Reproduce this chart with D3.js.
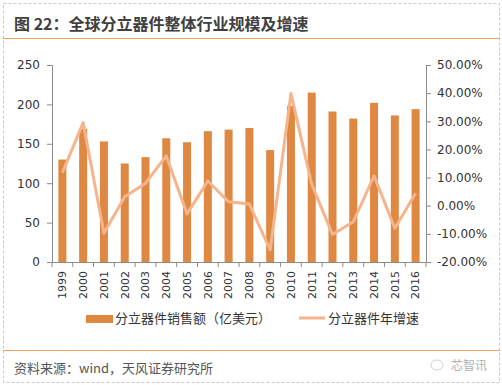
<!DOCTYPE html>
<html>
<head>
<meta charset="utf-8">
<script src="https://cdn.jsdelivr.net/npm/d3@7"></script>
<style>
  body { margin: 0; background: #fff; }
  svg { display: block; font-family: "Noto Sans CJK SC", "DejaVu Sans", sans-serif; }
</style>
</head>
<body>
<div id="chart"></div>
<script>
var years = ["1999","2000","2001","2002","2003","2004","2005","2006","2007","2008",
             "2009","2010","2011","2012","2013","2014","2015","2016"];
var sales = [130, 169, 153, 125, 133, 157, 152, 166, 168, 170,
             142, 198, 215, 191, 182, 202, 186, 194];
var growth = [11.7, 29.5, -9.8, 3.2, 8.0, 17.7, -2.9, 8.8, 1.4, 0.6,
              -15.7, 39.9, 7.6, -10.2, -5.7, 10.6, -8.0, 4.4];
var leftTicks = [0, 50, 100, 150, 200, 250];
var rightTicks = [-20, -10, 0, 10, 20, 30, 40, 50];

var W = 502, H = 385;
var barColor = "#DF8841", lineColor = "#F5B48C", axisColor = "#8c8c8c", orange = "#E8A061";

var svg = d3.select("#chart").append("svg")
    .attr("width", W).attr("height", H);

// dashed frame
svg.append("rect")
    .attr("x", 3.5).attr("y", 3.5).attr("width", W - 6).attr("height", H - 6)
    .attr("fill", "none").attr("stroke", "#c8c8c8").attr("stroke-dasharray", "3,2");

// title
svg.append("text")
    .attr("x", 14).attr("y", 30)
    .attr("font-size", 16).attr("font-weight", "bold").attr("fill", "#404040")
    .text("图 22：全球分立器件整体行业规模及增速");
svg.append("line").attr("x1", 3).attr("x2", W - 2).attr("y1", 38.5).attr("y2", 38.5)
    .attr("stroke", orange).attr("stroke-width", 1.2);

var plotL = 52, plotR = 426, plotT = 65, plotB = 262;

var x = d3.scaleBand().domain(years).range([plotL, plotR]);
var y = d3.scaleLinear().domain([0, 250]).range([plotB, plotT]);
var y2 = d3.scaleLinear().domain([-20, 50]).range([plotB, plotT]);

// bars
svg.selectAll(".bar").data(sales).enter().append("rect")
    .attr("x", (d, i) => x(years[i]) + x.bandwidth() / 2 - 4)
    .attr("width", 8)
    .attr("y", d => y(d))
    .attr("height", d => y(0) - y(d))
    .attr("fill", barColor);

// growth line
var line = d3.line()
    .x((d, i) => x(years[i]) + x.bandwidth() / 2)
    .y(d => y2(d));
svg.append("path").datum(growth)
    .attr("d", line).attr("fill", "none")
    .attr("stroke", lineColor).attr("stroke-width", 3).attr("stroke-linejoin", "round");

// left axis
var gl = svg.append("g").attr("transform", "translate(" + plotL + ",0)")
    .call(d3.axisLeft(y).tickValues(leftTicks).tickSize(5).tickPadding(7));
// right axis
var gr = svg.append("g").attr("transform", "translate(" + plotR + ",0)")
    .call(d3.axisRight(y2).tickValues(rightTicks).tickSize(5).tickPadding(6)
        .tickFormat(d => d.toFixed(2) + "%"));
// bottom axis
var gb = svg.append("g").attr("transform", "translate(0," + plotB + ")")
    .call(d3.axisBottom(x).tickSize(0).tickPadding(6));
gb.selectAll("text")
    .attr("transform", "rotate(-90)")
    .attr("text-anchor", "end")
    .attr("x", -9).attr("y", 0).attr("dy", "0.35em");
gb.selectAll(".sep").data(d3.range(years.length + 1)).enter().append("line")
    .attr("x1", i => plotL + i * x.step()).attr("x2", i => plotL + i * x.step())
    .attr("y1", 0).attr("y2", 5).attr("stroke", axisColor);

[gl, gr, gb].forEach(function(g) {
    g.select(".domain").attr("stroke", axisColor);
    g.selectAll(".tick line").attr("stroke", axisColor);
    g.selectAll("text").attr("fill", "#333").attr("font-family", "'DejaVu Sans', sans-serif");
});
gl.selectAll("text").attr("font-size", 12);
gr.selectAll("text").attr("font-size", 12);
gb.selectAll("text").attr("font-size", 11);

// legend
svg.append("rect").attr("x", 86).attr("y", 315).attr("width", 27).attr("height", 8).attr("fill", barColor);
svg.append("text").attr("x", 115).attr("y", 323).attr("font-size", 13).attr("fill", "#333")
    .text("分立器件销售额（亿美元）");
svg.append("line").attr("x1", 299).attr("x2", 325).attr("y1", 318).attr("y2", 318)
    .attr("stroke", lineColor).attr("stroke-width", 3);
svg.append("text").attr("x", 328).attr("y", 323).attr("font-size", 13).attr("fill", "#333")
    .text("分立器件年增速");

// source
svg.append("line").attr("x1", 3).attr("x2", W - 2).attr("y1", 350.5).attr("y2", 350.5)
    .attr("stroke", orange).attr("stroke-width", 1.2);
svg.append("text").attr("x", 14).attr("y", 373).attr("font-size", 13).attr("fill", "#555")
    .text("资料来源：wind，天风证券研究所");
svg.append("text").attr("x", 487).attr("y", 370).attr("text-anchor", "end")
    .attr("font-size", 12).attr("fill", "#b0b0b0").text("芯智讯");
svg.append("ellipse").attr("cx", 437).attr("cy", 365).attr("rx", 6).attr("ry", 5)
    .attr("fill", "none").attr("stroke", "#d0d0d0");
</script>
</body>
</html>
